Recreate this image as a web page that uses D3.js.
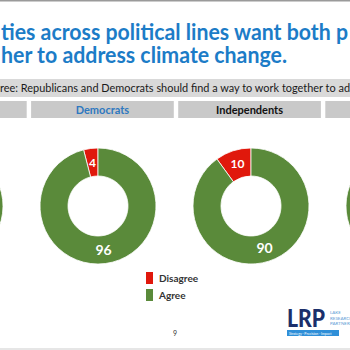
<!DOCTYPE html>
<html>
<head>
<meta charset="utf-8">
<script src="https://cdn.jsdelivr.net/npm/d3@7"></script>
<style>
  body { margin: 0; background: #fff; }
  svg { display: block; font-family: Lato, "Open Sans", sans-serif; }
</style>
</head>
<body>
<svg id="chart"></svg>
<script>
// slide is cropped: only the middle two groups are fully visible
const groups = ["All Voters", "Democrats", "Independents", "Republicans"];
const disagree = [7, 4, 10, 12];
const agree = [93, 96, 90, 88];
const answers = ["Disagree", "Agree"];
const titleLines = [
  "ties across political lines want both p",
  "her to address climate change."
];
const subtitle = "ree: Republicans and Democrats should find a way to work together to ad";
const pageNumber = "9";

const width = 350, height = 350;
const colors = { Disagree: "#e0180c", Agree: "#5a8a3a" };
const headerColor = { Democrats: "#2e78c0", Independents: "#111" };

const svg = d3.select("#chart").attr("width", width).attr("height", height);

svg.append("rect").attr("width", width).attr("height", 1.5).attr("fill", "#9a9a9a");
svg.append("rect").attr("y", height - 2).attr("width", width).attr("height", 2).attr("fill", "#e6e6e6");

// title
svg.selectAll(".title")
  .data(titleLines)
  .join("text")
  .attr("class", "title")
  .attr("x", 1)
  .attr("y", (d, i) => 40 + i * 23)
  .attr("font-size", 22)
  .attr("font-weight", 700)
  .attr("fill", "#1c7cc7")
  .attr("textLength", (d, i) => (i === 0 ? 347 : 286))
  .attr("lengthAdjust", "spacingAndGlyphs")
  .text((d) => d);

// subtitle bar
svg.append("rect").attr("x", 0).attr("y", 79).attr("width", width).attr("height", 18).attr("fill", "#d9d9d9");
svg.append("text")
  .attr("x", 0)
  .attr("y", 92)
  .attr("font-size", 10.5)
  .attr("fill", "#1a1a1a")
  .attr("textLength", 350)
  .attr("lengthAdjust", "spacingAndGlyphs")
  .text(subtitle);

// group header boxes
const xBox = d3.scaleBand().domain(groups).range([-116, 468]).paddingInner(0.03);

const headers = svg.selectAll(".header").data(groups).join("g").attr("class", "header");
headers.append("rect")
  .attr("x", (d) => xBox(d))
  .attr("y", 101)
  .attr("width", xBox.bandwidth())
  .attr("height", 17)
  .attr("fill", "#c9c9c9");
headers.append("text")
  .attr("x", (d) => xBox(d) + xBox.bandwidth() / 2)
  .attr("y", 113.5)
  .attr("text-anchor", "middle")
  .attr("font-size", 11)
  .attr("font-weight", 700)
  .attr("fill", (d) => headerColor[d] || "#111")
  .text((d) => d);

// donuts
const xDonut = d3.scalePoint().domain(groups).range([-55, 404]);
const cy = 206;
const outer = 58, inner = 30;
const arc = d3.arc().innerRadius(inner).outerRadius(outer);

groups.forEach((g, i) => {
  const values = [disagree[i], agree[i]];
  const start = -2 * Math.PI * disagree[i] / 100;
  const pie = d3.pie().sort(null).startAngle(start).endAngle(start + 2 * Math.PI);
  const arcs = pie(values);

  const donut = svg.append("g").attr("transform", `translate(${xDonut(g)},${cy})`);
  donut.selectAll("path")
    .data(arcs)
    .join("path")
    .attr("d", arc)
    .attr("fill", (d, j) => colors[answers[j]])
    .attr("stroke", "#fff")
    .attr("stroke-width", 0.8);
  donut.selectAll("text")
    .data(arcs)
    .join("text")
    .attr("transform", (d) => `translate(${arc.centroid(d)})`)
    .attr("text-anchor", "middle")
    .attr("dy", "0.36em")
    .attr("font-size", (d, j) => (j === 0 ? 12 : 14))
    .attr("font-weight", 700)
    .attr("fill", "#fff")
    .text((d) => d.data);
});

// legend
const legend = svg.selectAll(".legend").data(answers).join("g")
  .attr("class", "legend")
  .attr("transform", (d, i) => `translate(146,${272 + i * 17})`);
legend.append("rect").attr("width", 7).attr("height", 12).attr("fill", (d) => colors[d]);
legend.append("text")
  .attr("x", 13)
  .attr("y", 9.5)
  .attr("font-size", 10)
  .attr("font-weight", 700)
  .attr("fill", "#333")
  .text((d) => d);

// page number
svg.append("text").attr("x", 175).attr("y", 336).attr("text-anchor", "middle")
  .attr("font-size", 7).attr("fill", "#333").text(pageNumber);

// logo
const logo = svg.append("g").attr("transform", "translate(287,0)");
logo.append("text").attr("x", 0).attr("y", 327).attr("font-size", 24).attr("font-weight", 900)
  .attr("fill", "#1b2f6b").attr("textLength", 38).attr("lengthAdjust", "spacingAndGlyphs").text("LRP");
logo.selectAll(".lake").data(["LAKE", "RESEARCH", "PARTNERS"]).join("text")
  .attr("class", "lake")
  .attr("x", 43).attr("y", (d, i) => 314 + i * 5.5)
  .attr("font-size", 4.5).attr("fill", "#5b9bd5").text((d) => d);
logo.append("rect").attr("x", 0).attr("y", 330).attr("width", 52).attr("height", 6).attr("fill", "#2f8fd8");
logo.append("text").attr("x", 2).attr("y", 334.5).attr("font-size", 3.5).attr("fill", "#fff")
  .text("Strategy · Precision · Impact");
</script>
</body>
</html>
